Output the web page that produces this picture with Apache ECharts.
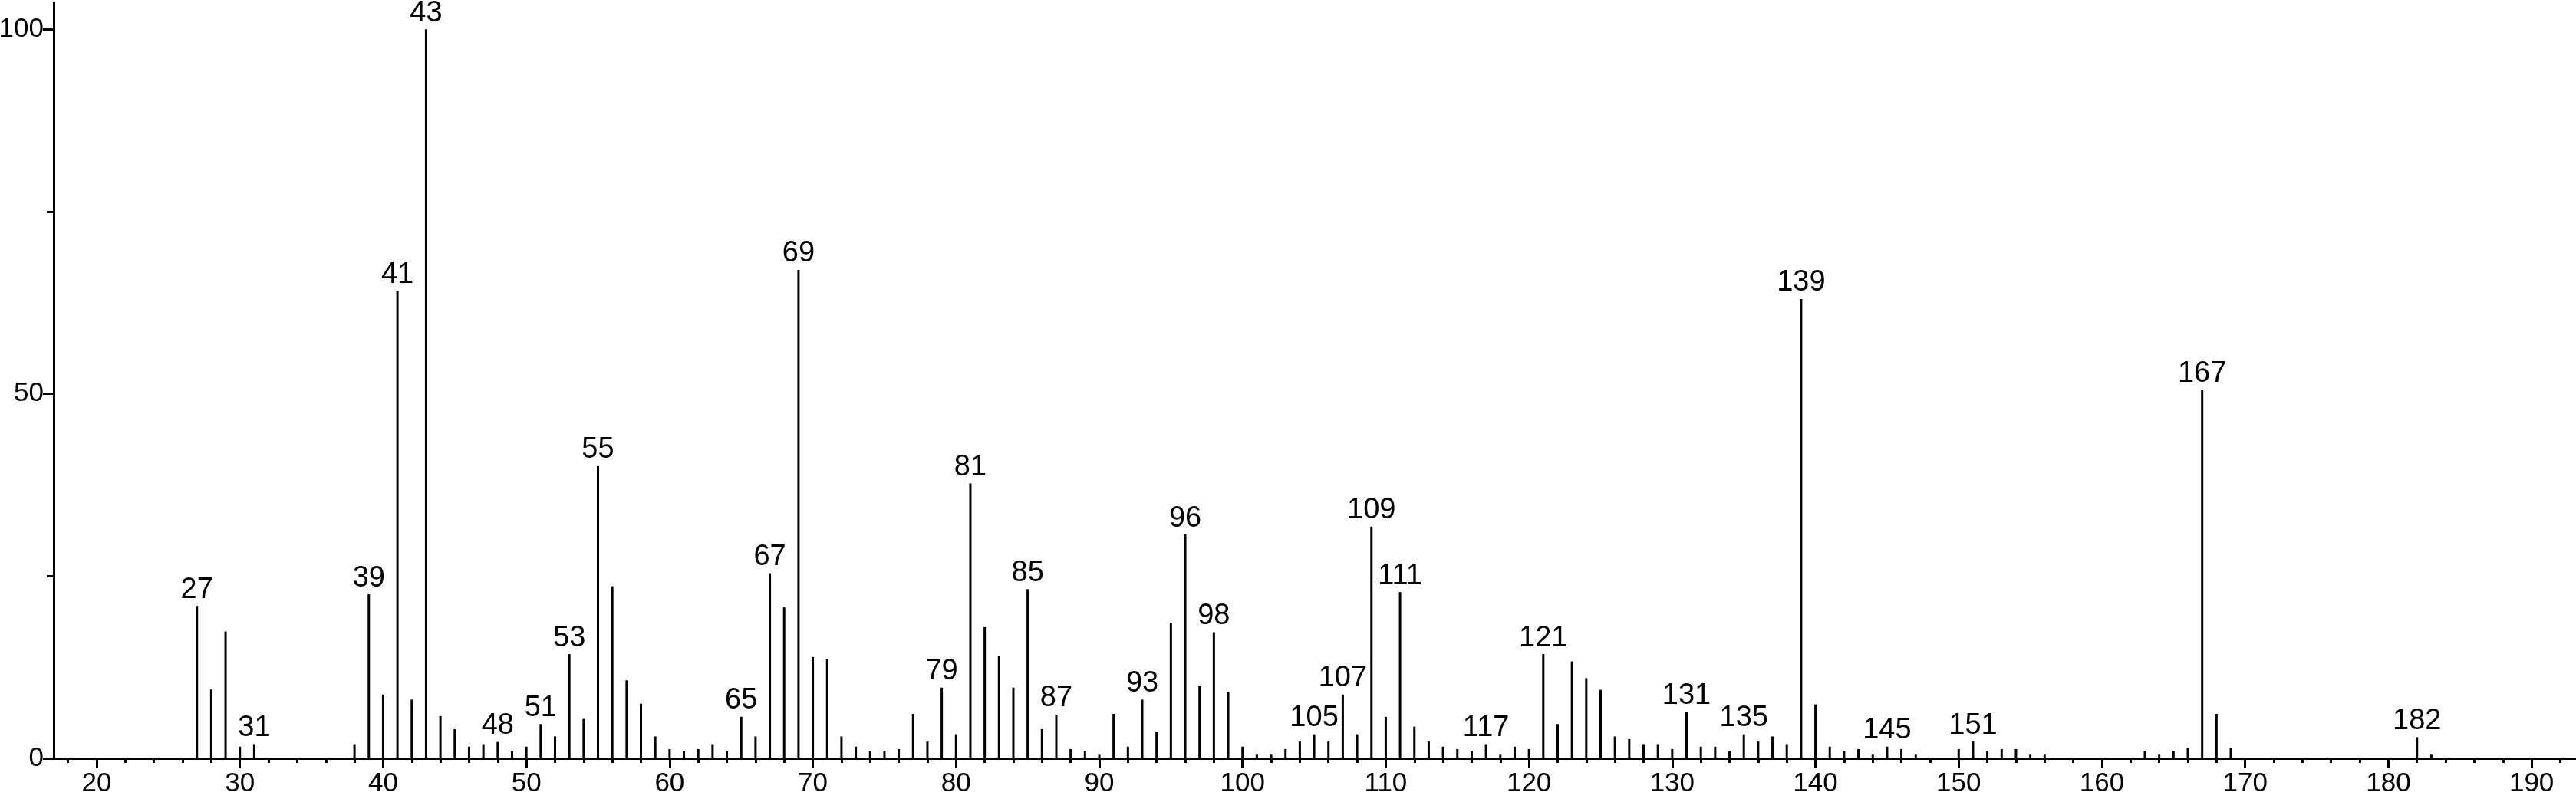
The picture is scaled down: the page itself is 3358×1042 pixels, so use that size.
<!DOCTYPE html>
<html>
<head>
<meta charset="utf-8">
<script src="https://cdn.jsdelivr.net/npm/echarts@6/dist/echarts.min.js"></script>
<style>
  html, body { margin: 0; padding: 0; background: #fff; }
  #chart { width: 3358px; height: 1042px; }
</style>
</head>
<body>
<div id="chart"></div>
<script>
// m/z values and relative intensities
const mz = [
  27, 28, 29, 30, 31, 38, 39, 40, 41, 42, 43, 44, 45, 46, 47, 48, 49, 50,
  51, 52, 53, 54, 55, 56, 57, 58, 59, 60, 61, 62, 63, 64, 65, 66, 67, 68,
  69, 70, 71, 72, 73, 74, 75, 76, 77, 78, 79, 80, 81, 82, 83, 84, 85, 86,
  87, 88, 89, 90, 91, 92, 93, 94, 95, 96, 97, 98, 99, 100, 101, 102, 103,
  104, 105, 106, 107, 108, 109, 110, 111, 112, 113, 114, 115, 116, 117,
  118, 119, 120, 121, 122, 123, 124, 125, 126, 127, 128, 129, 130, 131,
  132, 133, 134, 135, 136, 137, 138, 139, 140, 141, 142, 143, 144, 145,
  146, 147, 150, 151, 152, 153, 154, 155, 156, 163, 164, 165, 166, 167,
  168, 169, 182, 183,
]
const intensity = [
  20.9, 9.45, 17.4, 1.6, 1.95, 1.95, 22.5, 8.75, 64.1, 8.05, 100, 5.8, 4.0, 1.6, 1.95, 2.25, 0.95, 1.6,
  4.7, 3.0, 14.3, 5.4, 40.1, 23.6, 10.7, 7.5, 3.0, 1.27, 0.95, 1.27, 1.95, 0.95, 5.7, 3.0, 25.4, 20.7,
  67.0, 13.9, 13.6, 3.0, 1.6, 0.95, 0.95, 1.27, 6.1, 2.3, 9.7, 3.3, 37.7, 18.0, 14.0, 9.7, 23.2, 4.0,
  6.0, 1.27, 0.95, 0.6, 6.1, 1.6, 8.05, 3.66, 18.6, 30.7, 10.0, 17.3, 9.1, 1.6, 0.6, 0.6, 1.27,
  2.3, 3.3, 2.3, 8.75, 3.3, 31.8, 5.7, 22.8, 4.35, 2.3, 1.6, 1.27, 0.95, 1.95,
  0.6, 1.6, 1.27, 14.3, 4.7, 13.3, 11.0, 9.4, 3.0, 2.65, 1.95, 1.95, 1.27, 6.4,
  1.6, 1.6, 0.95, 3.3, 2.3, 3.0, 1.95, 63.0, 7.4, 1.6, 0.95, 1.27, 0.6, 1.6,
  1.27, 0.6, 1.27, 2.3, 0.95, 1.27, 1.27, 0.6, 0.6, 1.0, 0.6, 1.0, 1.4, 50.5,
  6.1, 1.4, 2.9, 0.6,
]
// peaks that carry an m/z annotation
const labelledPeaks = [
  27, 31, 39, 41, 43, 48, 51, 53, 55, 65, 67, 69, 79, 81, 85, 87, 93, 96,
  98, 105, 107, 109, 111, 117, 121, 131, 135, 139, 145, 151, 167, 182,
]
const xLabelValues = [20, 30, 40, 50, 60, 70, 80, 90, 100, 110, 120, 130, 140, 150, 160, 170, 180, 190]
const xMinorTicks = []
for (let v = 18; v <= 192; v += 2) xMinorTicks.push(v)
const yLabelValues = [0, 50, 100]
const yMinorTicks = [25, 75]

const font = 'Liberation Sans, Arial, Helvetica, sans-serif'
const xMin = 17
const xMax = 193.1
const yMax = 103.7

const peakData = mz.map((m, i) => ({
  value: [m, intensity[i]],
  label: { show: labelledPeaks.includes(m) },
}))

const option = {
  animation: false,
  backgroundColor: '#fff',
  grid: {
    left: 70,
    right: 0,
    top: 3,
    bottom: 53,
    containLabel: false,
    outerBoundsMode: 'none',
  },
  xAxis: [
    {
      type: 'value',
      min: xMin,
      max: xMax,
      axisLine: { show: true, lineStyle: { color: '#000', width: 3 } },
      axisTick: {
        show: true,
        length: 6,
        customValues: xMinorTicks,
        lineStyle: { color: '#000', width: 3 },
      },
      axisLabel: {
        customValues: xLabelValues,
        color: '#000',
        fontSize: 35,
        fontFamily: font,
        margin: 16,
      },
      splitLine: { show: false },
    },
    {
      type: 'value',
      min: xMin,
      max: xMax,
      position: 'bottom',
      axisLine: { show: false },
      axisTick: {
        show: true,
        length: 13,
        customValues: xLabelValues,
        lineStyle: { color: '#000', width: 3 },
      },
      axisLabel: { show: false },
      splitLine: { show: false },
    },
  ],
  yAxis: [
    {
      type: 'value',
      min: 0,
      max: yMax,
      axisLine: { show: true, lineStyle: { color: '#000', width: 3 } },
      axisTick: {
        show: true,
        length: 9,
        customValues: yMinorTicks,
        lineStyle: { color: '#000', width: 3 },
      },
      axisLabel: {
        customValues: yLabelValues,
        color: '#000',
        fontSize: 35,
        fontFamily: font,
        margin: 13,
      },
      splitLine: { show: false },
    },
    {
      type: 'value',
      min: 0,
      max: yMax,
      position: 'left',
      axisLine: { show: false },
      axisTick: {
        show: true,
        length: 14,
        customValues: yLabelValues,
        lineStyle: { color: '#000', width: 3 },
      },
      axisLabel: { show: false },
      splitLine: { show: false },
    },
  ],
  series: [
    {
      type: 'bar',
      xAxisIndex: 0,
      yAxisIndex: 0,
      barWidth: 3,
      data: peakData,
      itemStyle: { color: '#000' },
      label: {
        position: 'top',
        distance: 2,
        color: '#000',
        fontSize: 38,
        fontFamily: font,
        formatter: p => String(p.value[0]),
      },
    },
  ],
}

const myChart = echarts.init(document.getElementById('chart'), null, { renderer: 'canvas' })
myChart.setOption(option)
</script>
</body>
</html>
